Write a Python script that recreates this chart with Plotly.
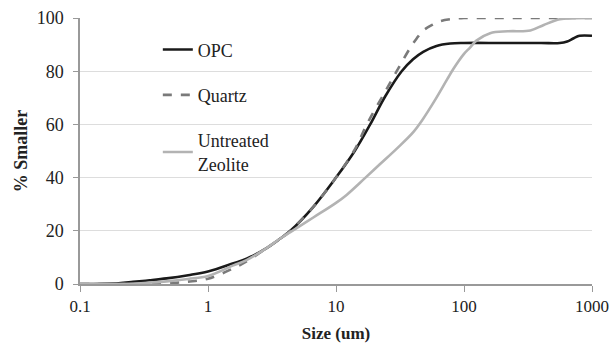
import plotly.graph_objects as go

# Particle size (um) and cumulative % smaller
opc_size = [0.1, 0.2, 0.26, 0.35, 0.475, 0.7, 1, 1.58, 2, 2.87, 3.65, 4.4, 6.65, 10, 14, 18.5, 24.2, 32.6, 40, 48, 61, 78, 100, 200, 400, 560, 640, 720, 800, 1000]
opc_pct = [0, 0.3, 0.8, 1.4, 2.1, 3.3, 4.7, 7.8, 9.5, 13.5, 17, 20, 29, 40, 50, 60, 70.5, 80, 84.5, 87.3, 89.5, 90.4, 90.6, 90.6, 90.6, 90.6, 91.2, 92.4, 93.3, 93.3]

quartz_size = [0.1, 0.3, 0.475, 0.7, 1, 1.58, 2, 2.87, 3.65, 4.4, 6.65, 10, 14, 17.4, 24, 29.8, 37.8, 42.7, 48, 57, 65, 80, 100, 200, 1000]
quartz_pct = [0, 0, 0.3, 0.9, 2, 5.9, 8.5, 13.5, 17, 20, 29, 40, 50.5, 60, 72, 80, 88.6, 92.3, 95.3, 97.5, 98.8, 99.6, 100, 100, 100]

zeolite_size = [0.1, 0.2, 0.3, 0.475, 0.7, 1, 1.58, 2, 2.87, 3.65, 4.4, 6.65, 10, 12.1, 17, 22, 30, 40, 47, 60, 74, 83, 100, 111, 125, 160, 220, 330, 420, 560, 700, 1000]
zeolite_pct = [0, 0, 0.3, 1, 1.9, 3, 7, 9, 13.5, 17, 19.5, 25, 30.5, 33.5, 40, 45, 51, 57, 61.5, 69.5, 77, 81, 86.5, 88.8, 91.5, 94.3, 95, 95.3, 97.4, 99.5, 99.9, 100]

x_tickvals = [0.1, 1, 10, 100, 1000]
x_ticktext = ["0.1", "1", "10", "100", "1000"]
y_tickvals = [0, 20, 40, 60, 80, 100]

FONT = "Liberation Serif, Times New Roman, serif"

fig = go.Figure()
fig.add_trace(go.Scatter(x=opc_size, y=opc_pct, mode="lines", name="OPC",
                         legendgroup="a", line=dict(color="#1a1a1a", width=2.6, shape="spline", smoothing=1)))
fig.add_trace(go.Scatter(x=quartz_size, y=quartz_pct, mode="lines", name="Quartz",
                         legendgroup="b", line=dict(color="#7a7a7a", width=2.6, dash="dash", shape="spline", smoothing=1)))
fig.add_trace(go.Scatter(x=zeolite_size, y=zeolite_pct, mode="lines", name="Untreated<br>Zeolite",
                         legendgroup="c", line=dict(color="#b3b3b3", width=2.6, shape="spline", smoothing=1)))

fig.update_layout(
    width=611, height=343,
    margin=dict(l=80, r=19, t=18, b=59),
    paper_bgcolor="white", plot_bgcolor="white",
    font=dict(family=FONT, size=18, color="#222222"),
    showlegend=True,
    legend=dict(x=0.152, y=0.95, xanchor="left", yanchor="top",
                bgcolor="rgba(0,0,0,0)", font=dict(family=FONT, size=18, color="#222222"),
                tracegroupgap=19, traceorder="grouped", itemwidth=30),
    xaxis=dict(type="log", range=[-1, 3], tickvals=x_tickvals, ticktext=x_ticktext,
               showgrid=False, showline=True, linecolor="#999999", linewidth=1.5,
               ticks="outside", ticklen=6, tickcolor="#999999", zeroline=False, automargin=False,
               title=dict(text="<b>Size (um)</b>", font=dict(family=FONT, size=17), standoff=14),
               tickfont=dict(family=FONT, size=17)),
    yaxis=dict(range=[0, 100], tickvals=y_tickvals, showgrid=True, gridcolor="#dddddd", gridwidth=1.2,
               showline=True, linecolor="#999999", linewidth=1.5,
               ticks="outside", ticklen=5, tickcolor="#999999", zeroline=False, automargin=False,
               ticklabelstandoff=6,
               title=dict(text="<b>% Smaller</b>", font=dict(family=FONT, size=18), standoff=4),
               tickfont=dict(family=FONT, size=18)),
)

# remove the default page margin so the 611x343 figure fills the window exactly
fig.write_html("out.html", config={"displayModeBar": False},
               post_script="document.body.style.margin='0';document.body.style.overflow='hidden';")
